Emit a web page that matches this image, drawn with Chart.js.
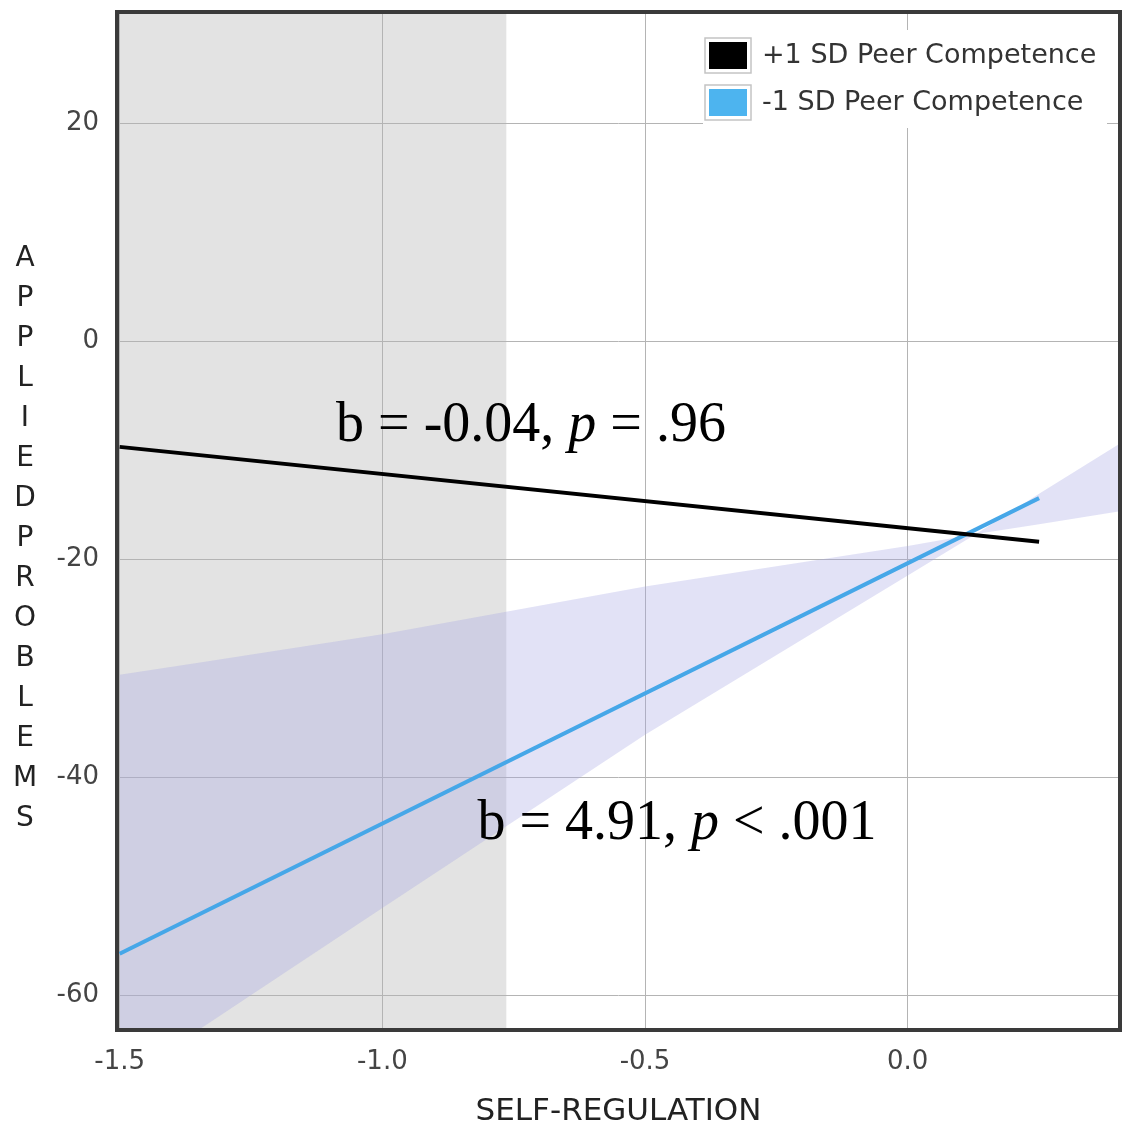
<!DOCTYPE html>
<html>
<head>
  <title>Applied Problems by Self-Regulation</title>
  <script src="https://cdn.jsdelivr.net/npm/chart.js"></script>
  <style>
    body {
      margin: 0;
      background: #fff;
    }
    .chart-container {
      width: 1122px;
      height: 1127px;
    }
  </style>
</head>
<body>
  <div class="chart-container">
    <canvas id="jnChart"></canvas>
  </div>
  <script>
    // axis ticks
    const xTicks = [-1.5, -1.0, -0.5, 0.0];
    const yTicks = [20, 0, -20, -40, -60];

    // simple slopes (+1 SD / -1 SD peer competence)
    const lineX = [-1.5, 0.25];
    const highPeer = [-9.7, -18.4];
    const lowPeer = [-56.2, -14.4];

    // shaded band around the -1 SD line
    const bandX = [-1.5, -1.35, -1.0, -0.5, 0.0, 0.13, 0.25, 0.404];
    const bandUpper = [-30.6, -29.5, -26.9, -22.5, -18.8, -17.7, -14.0, -9.4];
    const bandLower = [-68.0, -63.2, -52.0, -36.1, -21.5, -17.7, -16.8, -15.6];

    // region of significance ends here
    const jnBoundary = -0.764;

    const seriesLabels = ['+1 SD Peer Competence', '-1 SD Peer Competence'];
    const yTitle = 'APPLIEDPROBLEMS';
    const xTitle = 'SELF-REGULATION';

    // slope annotations, anchored in data units
    const notes = [
      { x: -1.088, y: -9.2, parts: ['b = -0.04, ', 'p', ' = .96'] },
      { x: -0.819, y: -45.7, parts: ['b = 4.91, ', 'p', ' < .001'] }
    ];

    const toPoints = (xs, ys) => xs.map((x, i) => ({ x: x, y: ys[i] }));

    const blueLine = '#46a7e8';
    const bandFill = 'rgba(164, 164, 227, 0.32)';

    const jnPlugin = {
      id: 'jnPlugin',
      beforeDraw(chart) {
        const { ctx, chartArea, scales } = chart;
        const xb = scales.x.getPixelForValue(jnBoundary);
        ctx.save();
        ctx.fillStyle = '#e3e3e3';
        ctx.fillRect(chartArea.left, chartArea.top, xb - chartArea.left, chartArea.bottom - chartArea.top);
        ctx.restore();
      },
      afterDraw(chart) {
        const { ctx, chartArea, scales } = chart;
        ctx.save();

        // annotations
        ctx.fillStyle = '#000';
        ctx.textBaseline = 'alphabetic';
        notes.forEach(n => {
          let px = scales.x.getPixelForValue(n.x);
          const py = scales.y.getPixelForValue(n.y);
          n.parts.forEach((p, i) => {
            ctx.font = (i === 1 ? 'italic ' : '') + '56px "Liberation Serif", "Times New Roman", serif';
            ctx.fillText(p, px, py);
            px += ctx.measureText(p).width;
          });
        });

        // legend
        ctx.fillStyle = '#fff';
        ctx.fillRect(703, 30, 404, 98);
        ctx.font = '27px "DejaVu Sans", Verdana, sans-serif';
        ctx.textBaseline = 'middle';
        seriesLabels.forEach((lab, i) => {
          const cy = 55 + i * 47;
          ctx.strokeStyle = '#c4c4c4';
          ctx.lineWidth = 1.5;
          ctx.strokeRect(705, cy - 17, 46, 35);
          ctx.fillStyle = i === 0 ? '#000' : '#4db4ef';
          ctx.fillRect(709, cy - 13, 38, 27);
          ctx.fillStyle = '#333';
          ctx.fillText(lab, 762, cy + 1);
        });

        // frame
        ctx.strokeStyle = '#3a3a3a';
        ctx.lineWidth = 4;
        ctx.strokeRect(chartArea.left, chartArea.top, chartArea.right - chartArea.left, chartArea.bottom - chartArea.top);

        // stacked y title
        ctx.fillStyle = '#222';
        ctx.font = '28px "DejaVu Sans", Verdana, sans-serif';
        ctx.textAlign = 'center';
        ctx.textBaseline = 'middle';
        yTitle.split('').forEach((ch, i) => {
          ctx.fillText(ch, 25, 259 + i * 40);
        });
        ctx.restore();
      }
    };

    const tickFont = { family: '"DejaVu Sans", Verdana, sans-serif', size: 26 };

    new Chart(document.getElementById('jnChart'), {
      type: 'line',
      data: {
        datasets: [
          {
            label: seriesLabels[0],
            data: toPoints(lineX, highPeer),
            borderColor: '#000',
            borderWidth: 4,
            pointRadius: 0,
            fill: false,
            order: 0
          },
          {
            label: seriesLabels[1],
            data: toPoints(lineX, lowPeer),
            borderColor: blueLine,
            borderWidth: 4,
            pointRadius: 0,
            fill: false,
            order: 1
          },
          {
            label: 'band upper',
            data: toPoints(bandX, bandUpper),
            borderWidth: 0,
            borderColor: 'rgba(0,0,0,0)',
            backgroundColor: bandFill,
            pointRadius: 0,
            fill: '+1',
            order: 2
          },
          {
            label: 'band lower',
            data: toPoints(bandX, bandLower),
            borderWidth: 0,
            borderColor: 'rgba(0,0,0,0)',
            pointRadius: 0,
            fill: false,
            order: 3
          }
        ]
      },
      options: {
        responsive: true,
        maintainAspectRatio: false,
        animation: false,
        layout: { padding: { left: 0, right: 2, top: 12, bottom: 0 } },
        plugins: {
          legend: { display: false },
          tooltip: { enabled: false }
        },
        scales: {
          x: {
            type: 'linear',
            min: -1.505,
            max: 0.404,
            afterBuildTicks: s => { s.ticks = xTicks.map(v => ({ value: v })); },
            afterFit: s => {
              s.height = 97;
              s.paddingLeft = 0;
              s.paddingRight = 0;
            },
            grid: { color: '#b4b4b4', lineWidth: 1, drawTicks: false },
            border: { display: false },
            ticks: {
              padding: 17,
              color: '#444',
              font: tickFont,
              maxRotation: 0,
              callback: v => Number(v).toFixed(1)
            },
            title: {
              display: true,
              text: xTitle,
              color: '#222',
              font: { family: '"DejaVu Sans", Verdana, sans-serif', size: 31, lineHeight: 1 },
              padding: { top: 0, bottom: 0 }
            }
          },
          y: {
            type: 'linear',
            min: -63.2,
            max: 30.2,
            afterBuildTicks: s => { s.ticks = yTicks.map(v => ({ value: v })); },
            afterFit: s => {
              s.width = 117;
              s.paddingTop = 0;
              s.paddingBottom = 0;
            },
            grid: { color: '#b4b4b4', lineWidth: 1, drawTicks: false },
            border: { display: false },
            ticks: {
              padding: 18,
              color: '#444',
              font: tickFont,
              callback: v => String(v)
            }
          }
        }
      },
      plugins: [jnPlugin]
    });
  </script>
</body>
</html>
